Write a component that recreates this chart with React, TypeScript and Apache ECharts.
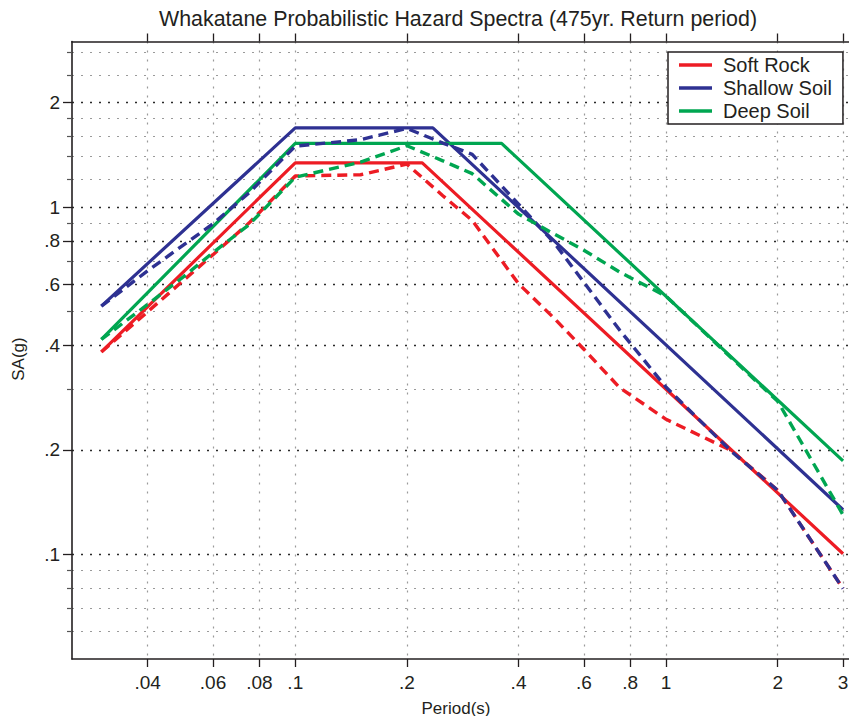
import React, { useEffect, useRef } from 'react';
import * as echarts from 'echarts';

// ---- tick values / labels ----
const xTickValues = [0.04, 0.06, 0.08, 0.1, 0.2, 0.4, 0.6, 0.8, 1, 2, 3];
const xTickLabels = ['.04', '.06', '.08', '.1', '.2', '.4', '.6', '.8', '1', '2', '3'];
const yMajorValues = [0.1, 0.2, 0.4, 0.6, 0.8, 1, 2];
const yMajorLabels = ['.1', '.2', '.4', '.6', '.8', '1', '2'];
const yMinorValues = [0.06, 0.07, 0.08, 0.09, 0.3, 0.5, 0.7, 0.9, 1.2, 1.4, 1.6, 1.8, 2.4, 2.8];

// ---- code spectra (solid) ----
const softRockT = [0.03, 0.1, 0.22, 3];
const softRockSA = [0.383, 1.342, 1.342, 0.1005];
const shallowSoilT = [0.03, 0.1, 0.235, 3];
const shallowSoilSA = [0.519, 1.692, 1.692, 0.1345];
const deepSoilT = [0.03, 0.1, 0.36, 3];
const deepSoilSA = [0.416, 1.526, 1.526, 0.186];

// ---- probabilistic spectra (dashed) ----
const pshaT = [0.03, 0.04, 0.05, 0.06, 0.075, 0.1, 0.15, 0.2, 0.25, 0.3, 0.4, 0.5, 0.6, 0.75, 1, 1.5, 2, 3];
const softRockPshaSA = [0.383, 0.5, 0.616, 0.73, 0.9, 1.23, 1.24, 1.33, 1.079, 0.916, 0.602, 0.478, 0.39, 0.302, 0.245, 0.199, 0.153, 0.0797];
const shallowSoilPshaSA = [0.519, 0.656, 0.779, 0.896, 1.099, 1.499, 1.565, 1.686, 1.53, 1.42, 1.02, 0.788, 0.608, 0.442, 0.303, 0.198, 0.153, 0.0797];
const deepSoilPshaSA = [0.416, 0.525, 0.631, 0.74, 0.89, 1.22, 1.348, 1.503, 1.36, 1.249, 0.955, 0.836, 0.752, 0.65, 0.554, 0.368, 0.276, 0.13];

const xMin = 0.025;
const xMax = 3.113;
const yMin = 0.05;
const yMax = 3;

const RED = '#ED1C24';
const BLUE = '#2E3192';
const GREEN = '#00A651';
const INK = '#231F20';
const FONT = '"Liberation Sans", Arial, Helvetica, sans-serif';

const lg = (v: number) => Math.log10(v);
const toPairs = (t: number[], s: number[]) => t.map((tv, i) => [lg(tv), lg(s[i])]);
const labelFor = (vals: number[], labels: string[]) => (v: number) => {
  const i = vals.findIndex((t) => Math.abs(lg(t) - v) < 1e-6);
  return i >= 0 ? labels[i] : '';
};

export default function App() {
  const ref = useRef<HTMLDivElement>(null);
  useEffect(() => {
    if (!ref.current) return;
    const chart = echarts.init(ref.current, undefined, { renderer: 'svg' });
    const solid = (name: string, color: string, t: number[], s: number[], z: number) => ({
      name,
      type: 'line',
      data: toPairs(t, s),
      showSymbol: false,
      symbol: 'none',
      z,
      lineStyle: { color, width: 3.2 },
      itemStyle: { color },
    });
    const dashed = (name: string, color: string, t: number[], s: number[], z: number) => ({
      name,
      type: 'line',
      data: toPairs(t, s),
      showSymbol: false,
      symbol: 'none',
      z,
      lineStyle: { color, width: 3.4, type: [10, 6] },
      itemStyle: { color },
    });
    const option: any = {
      animation: false,
      grid: { left: 72, top: 41.5, right: 0, bottom: 57, containLabel: false, outerBoundsMode: 'none' },
      graphic: [
        {
          type: 'text', x: 458, y: 19,
          style: { text: 'Whakatane Probabilistic Hazard Spectra (475yr. Return period)', align: 'center', verticalAlign: 'middle', fontSize: 21.4, fontFamily: FONT, fill: INK },
        },
        {
          type: 'text', x: 456, y: 708,
          style: { text: 'Period(s)', align: 'center', verticalAlign: 'middle', fontSize: 17, fontFamily: FONT, fill: INK },
        },
        {
          type: 'text', x: 18, y: 359, rotation: Math.PI / 2,
          style: { text: 'SA(g)', align: 'center', verticalAlign: 'middle', fontSize: 17, fontFamily: FONT, fill: INK },
        },
      ],
      legend: {
        data: ['Soft Rock', 'Shallow Soil', 'Deep Soil'],
        orient: 'vertical',
        left: 668,
        top: 52,
        backgroundColor: '#fff',
        borderColor: INK,
        borderWidth: 1.5,
        borderRadius: 0,
        padding: [3, 11, 3, 11],
        itemGap: 3,
        itemWidth: 33,
        itemHeight: 3.5,
        icon: 'rect',
        selectedMode: false,
        textStyle: { fontSize: 20, color: INK, fontFamily: FONT, padding: [0, 0, 0, 6] },
      },
      xAxis: [
        {
          type: 'value', position: 'bottom', min: lg(xMin), max: lg(xMax),
          axisLine: { show: true, onZero: false, lineStyle: { color: INK, width: 1.6 } },
          axisTick: { show: true, inside: false, length: 8, customValues: xTickValues.map(lg), lineStyle: { color: INK, width: 1.3 } },
          axisLabel: { show: true, customValues: xTickValues.map(lg), formatter: labelFor(xTickValues, xTickLabels), fontSize: 19, fontFamily: FONT, color: INK, margin: 14 },
          splitLine: { show: true, lineStyle: { color: '#9a9a9a', width: 1.2, type: [2, 7] } },
        },
        {
          type: 'value', position: 'top', min: lg(xMin), max: lg(xMax),
          axisLine: { show: true, onZero: false, lineStyle: { color: INK, width: 1.6 } },
          axisTick: { show: true, inside: false, length: 8, customValues: xTickValues.map(lg), lineStyle: { color: INK, width: 1.3 } },
          axisLabel: { show: false },
          splitLine: { show: false },
        },
      ],
      yAxis: [
        {
          type: 'value', position: 'left', min: lg(yMin), max: lg(yMax),
          axisLine: { show: true, onZero: false, lineStyle: { color: INK, width: 1.6 } },
          axisTick: { show: true, inside: false, length: 9, customValues: yMajorValues.map(lg), lineStyle: { color: INK, width: 1.3 } },
          axisLabel: { show: true, customValues: yMajorValues.map(lg), formatter: labelFor(yMajorValues, yMajorLabels), fontSize: 19, fontFamily: FONT, color: INK, margin: 12 },
          splitLine: { show: true, lineStyle: { color: '#2a2a2a', width: 1.3, type: [2, 7] } },
        },
        {
          type: 'value', position: 'left', min: lg(yMin), max: lg(yMax),
          axisLine: { show: false, onZero: false },
          axisTick: { show: true, inside: false, length: 5, customValues: yMinorValues.map(lg), lineStyle: { color: '#555', width: 1.2 } },
          axisLabel: { show: false },
          splitLine: { show: true, lineStyle: { color: '#9a9a9a', width: 1.2, type: [2, 7] } },
        },
      ],
      series: [
        solid('Soft Rock', RED, softRockT, softRockSA, 3),
        solid('Shallow Soil', BLUE, shallowSoilT, shallowSoilSA, 3),
        solid('Deep Soil', GREEN, deepSoilT, deepSoilSA, 3),
        dashed('Soft Rock PSHA', RED, pshaT, softRockPshaSA, 4),
        dashed('Shallow Soil PSHA', BLUE, pshaT, shallowSoilPshaSA, 4),
        dashed('Deep Soil PSHA', GREEN, pshaT, deepSoilPshaSA, 4),
      ],
    };
    chart.setOption(option);
    return () => chart.dispose();
  }, []);
  return <div ref={ref} style={{ position: 'absolute', left: 0, top: 0, width: 849, height: 716 }} />;
}
